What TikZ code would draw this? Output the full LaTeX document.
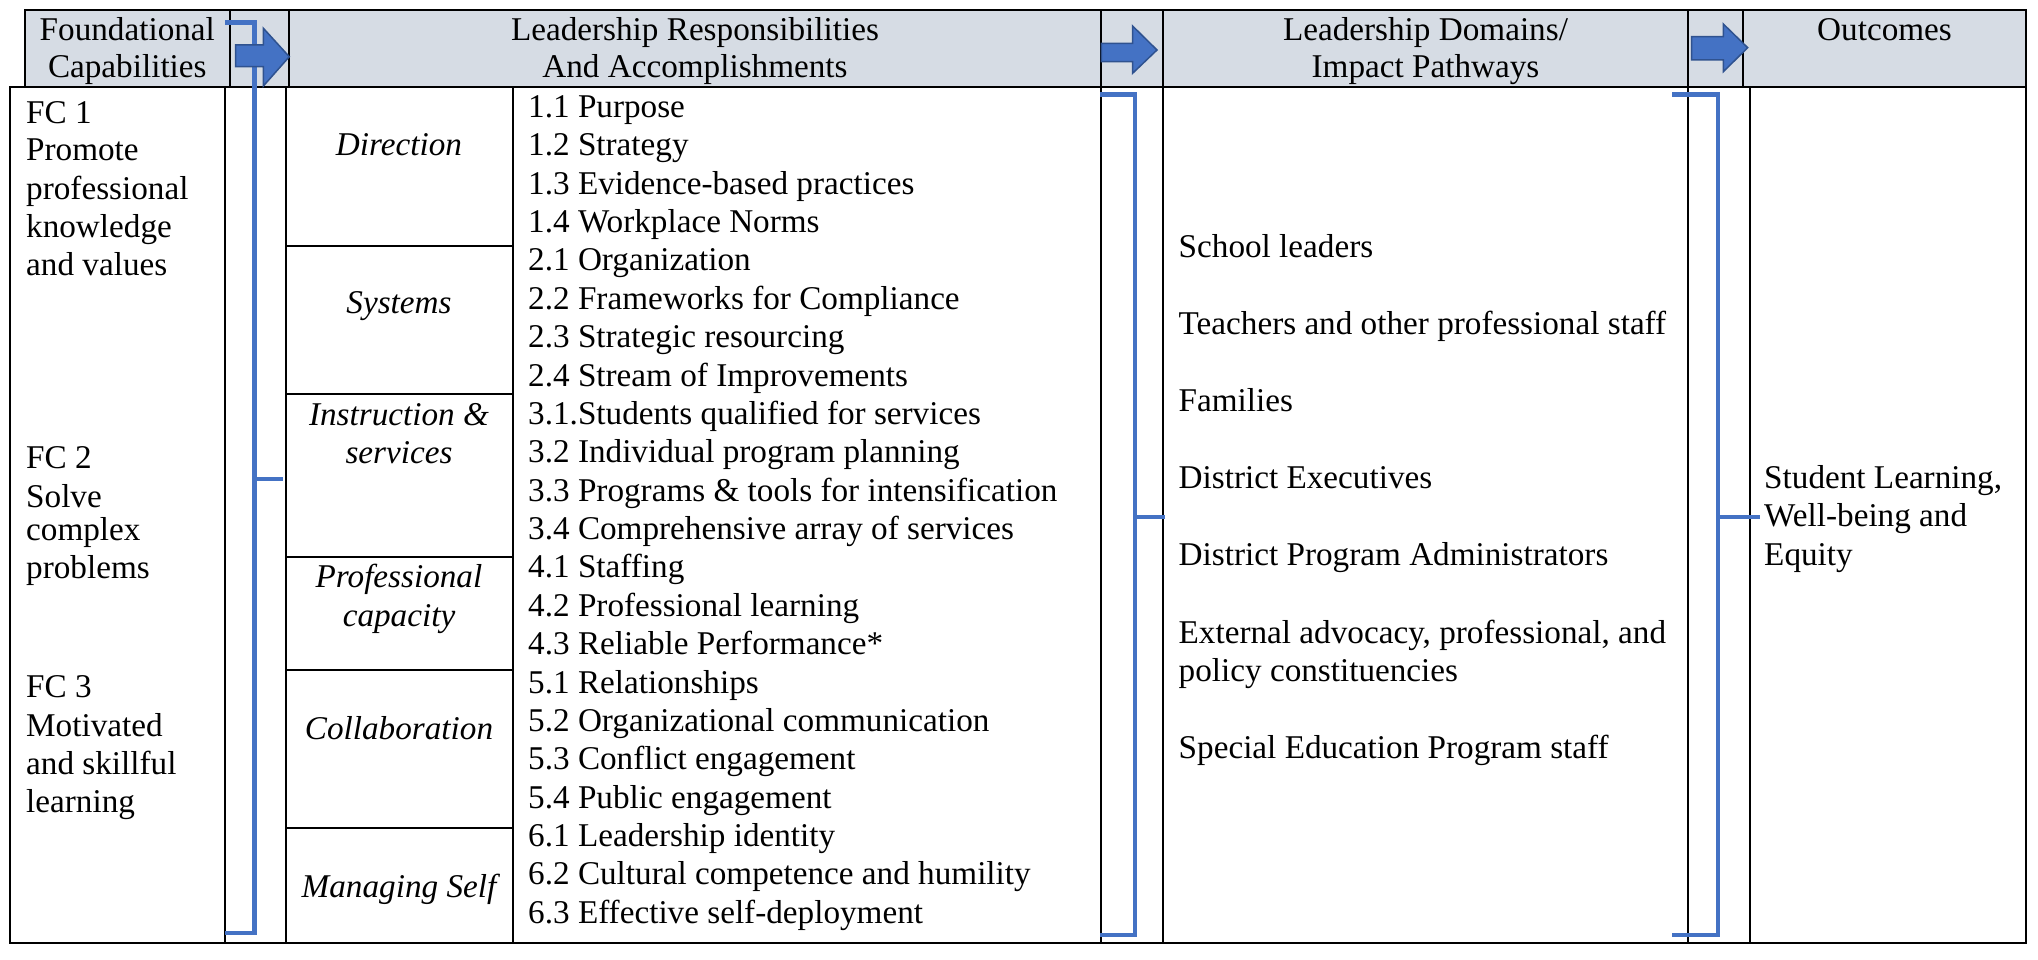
\documentclass[tikz,border=0pt]{standalone}
\usepackage{fontspec}
\setmainfont{Liberation Serif}
\definecolor{hdrfill}{HTML}{D6DCE4}
\definecolor{brk}{HTML}{4472C4}
\definecolor{arrfill}{HTML}{4472C4}
\definecolor{arrdraw}{HTML}{2F528F}
\newcommand\txtsz{\fontsize{33.2}{38.4}\selectfont}
\begin{document}
\begin{tikzpicture}[x=1pt,y=-1pt,
  gridline/.style={line width=2pt, draw=black},
  bracket/.style={line width=4.5pt, draw=brk, line join=miter},
  blockarrow/.style={fill=arrfill, draw=arrdraw, line width=1.5pt, line join=miter},
  lt/.style={font=\txtsz, inner sep=0pt, anchor=base west},
  ct/.style={font=\txtsz, inner sep=0pt, anchor=base},
  cat/.style={font=\txtsz\itshape, inner sep=0pt, anchor=base},
]
\fill[white] (0,0) rectangle (2038,960);
\useasboundingbox (0,0) rectangle (2038,960);

% header
\fill[hdrfill] (24.5,10) rectangle (2026,87);
\draw[gridline] (24.5,10) rectangle (2026,87);
\foreach \x in {230,289,1101,1163,1688,1743} \draw[gridline] (\x,10) -- (\x,87);

% body
\draw[gridline] (10,87) rectangle (2026,943);
\foreach \x in {225,286,513,1101,1163,1688,1750} \draw[gridline] (\x,87) -- (\x,943);
\foreach \y in {246,394,557,670,828} \draw[gridline] (286,\y) -- (513,\y);

% header texts
\node[ct] (h1a) at (127.3,40.5) {Foundational};
\node[ct] (h1b) at (127.3,77.3) {Capabilities};
\node[ct] (h2a) at (695,40.5) {Leadership Responsibilities};
\node[ct] (h2b) at (695,77.3) {And Accomplishments};
\node[ct] (h3a) at (1425.5,40.5) {Leadership Domains/};
\node[ct] (h3b) at (1425.5,77.3) {Impact Pathways};
\node[ct] (h4a) at (1884.5,40.5) {Outcomes};

% foundational capabilities
\node[lt] (fc1a) at (26,123.3) {FC 1};
\node[lt] (fc1b) at (26,161) {Promote};
\node[lt] (fc1c) at (26,199.3) {professional};
\node[lt] (fc1d) at (26,237.3) {knowledge};
\node[lt] (fc1e) at (26,276) {and values};
\node[lt] (fc2a) at (26,468) {FC 2};
\node[lt] (fc2b) at (26,507.5) {Solve};
\node[lt] (fc2c) at (26,540.5) {complex};
\node[lt] (fc2d) at (26,578) {problems};
\node[lt] (fc3a) at (26,697.3) {FC 3};
\node[lt] (fc3b) at (26,736.7) {Motivated};
\node[lt] (fc3c) at (26,774.5) {and skillful};
\node[lt] (fc3d) at (26,812.7) {learning};

% categories
\node[cat] (c1) at (399,156) {Direction};
\node[cat] (c2) at (399,313) {Systems};
\node[cat] (c3a) at (399,425) {Instruction \&};
\node[cat] (c3b) at (399,463) {services};
\node[cat] (c4a) at (399,587) {Professional};
\node[cat] (c4b) at (399,626) {capacity};
\node[cat] (c5) at (399,739) {Collaboration};
\node[cat] (c6) at (399,897) {Managing Self};

% items
\foreach \t [count=\i from 0] in {1.1 Purpose, 1.2 Strategy, 1.3 Evidence-based practices, 1.4 Workplace Norms, 2.1 Organization, 2.2 Frameworks for Compliance, 2.3 Strategic resourcing, 2.4 Stream of Improvements, 3.1.Students qualified for services, 3.2 Individual program planning, 3.3 Programs \& tools for intensification, 3.4 Comprehensive array of services, 4.1 Staffing, 4.2 Professional learning, 4.3 Reliable Performance*, 5.1 Relationships, 5.2 Organizational communication, 5.3 Conflict engagement, 5.4 Public engagement, 6.1 Leadership identity, 6.2 Cultural competence and humility, 6.3 Effective self-deployment}
  \node[lt] (item\i) at (528,{117.5+38.37*\i}) {\t};

% domains
\node[lt] (d1) at (1178.5,257.7) {School leaders};
\node[lt] (d2) at (1178.5,334.6) {Teachers and other professional staff};
\node[lt] (d3) at (1178.5,411.5) {Families};
\node[lt] (d4) at (1178.5,488.5) {District Executives};
\node[lt] (d5) at (1178.5,565.4) {District Program Administrators};
\node[lt] (d6a) at (1178.5,643) {External advocacy, professional, and};
\node[lt] (d6b) at (1178.5,681.4) {policy constituencies};
\node[lt] (d7) at (1178.5,758.5) {Special Education Program staff};

% outcomes
\node[lt] (o1) at (1764,488.5) {Student Learning,};
\node[lt] (o2) at (1764,526.9) {Well-being and};
\node[lt] (o3) at (1764,565.4) {Equity};

% brackets
\coordinate (b1t) at (225,22.7); \coordinate (b1tr) at (254.5,22.7);
\coordinate (b1br) at (254.5,933); \coordinate (b1b) at (225,933);
\coordinate (b1m) at (254.5,479); \coordinate (b1e) at (283,479);
\draw[bracket] (b1t) -- (b1tr) -- (b1br) -- (b1b);
\draw[bracket] (b1m) -- (b1e);

\coordinate (b2t) at (1100,94.3); \coordinate (b2tr) at (1135,94.3);
\coordinate (b2br) at (1135,935); \coordinate (b2b) at (1100,935);
\coordinate (b2m) at (1135,517); \coordinate (b2e) at (1165,517);
\draw[bracket] (b2t) -- (b2tr) -- (b2br) -- (b2b);
\draw[bracket] (b2m) -- (b2e);

\coordinate (b3t) at (1672,94.3); \coordinate (b3tr) at (1718,94.3);
\coordinate (b3br) at (1718,935); \coordinate (b3b) at (1672,935);
\coordinate (b3m) at (1718,517); \coordinate (b3e) at (1760,517);
\draw[bracket] (b3t) -- (b3tr) -- (b3br) -- (b3b);
\draw[bracket] (b3m) -- (b3e);

% block arrows
\draw[blockarrow] (235.7,45) -- (263.4,45) -- (263.4,28.3) -- (289.3,56.7) -- (263.4,86) -- (263.4,66.7) -- (235.7,66.7) -- cycle;
\draw[blockarrow] (1101.3,43.3) -- (1132.6,43.3) -- (1132.6,26) -- (1157,50) -- (1132.6,73.3) -- (1132.6,61.7) -- (1101.3,61.7) -- cycle;
\draw[blockarrow] (1691.7,36.7) -- (1723.3,36.7) -- (1723.3,24) -- (1747.7,47.7) -- (1723.3,71.7) -- (1723.3,60) -- (1691.7,60) -- cycle;
\end{tikzpicture}
\end{document}
